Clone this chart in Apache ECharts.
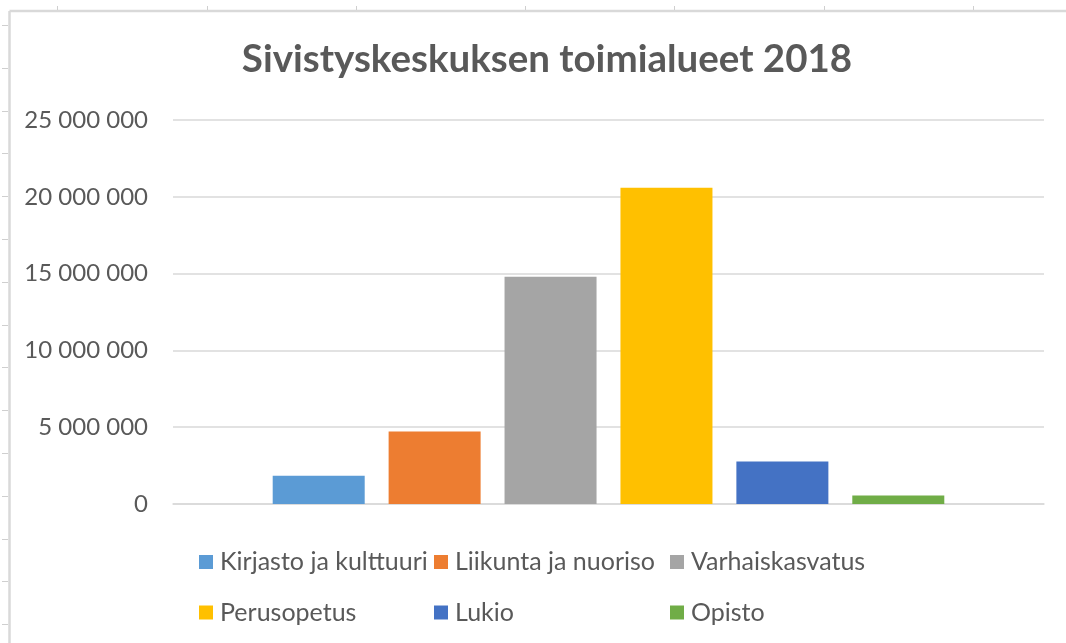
<!DOCTYPE html>
<html>
<head>
<meta charset="utf-8">
<script src="https://cdn.jsdelivr.net/npm/echarts@6/dist/echarts.min.js"></script>
<style>
html,body{margin:0;padding:0;background:#fff;}
#c{width:1066px;height:643px;}
</style>
</head>
<body>
<div id="c"></div>
<script>
const titleText = 'Sivistyskeskuksen toimialueet 2018';
const categories = [''];
const seriesNames = ['Kirjasto ja kulttuuri', 'Liikunta ja nuoriso', 'Varhaiskasvatus', 'Perusopetus', 'Lukio', 'Opisto'];
const seriesValues = [1840000, 4720000, 14800000, 20590000, 2770000, 560000];
const seriesColors = ['#5B9BD5', '#ED7D31', '#A5A5A5', '#FFC000', '#4472C4', '#70AD47'];
const yTicks = [0, 5000000, 10000000, 15000000, 20000000, 25000000];

const font = 'Lato';
const textColor = '#595959';
const frameColor = '#d9d9d9';

function fmt(v) {
  return String(v).replace(/\B(?=(\d{3})+(?!\d))/g, ' ');
}

// decorative spreadsheet frame
const graphics = [];
graphics.push({type:'line', shape:{x1:9.5, y1:11, x2:1066, y2:11}, style:{stroke:frameColor, lineWidth:2.5}, silent:true});
graphics.push({type:'line', shape:{x1:9.5, y1:11, x2:9.5, y2:643}, style:{stroke:frameColor, lineWidth:2.5}, silent:true});
[57, 207, 356, 525, 674, 824, 973].forEach(x => {
  graphics.push({type:'line', shape:{x1:x+0.5, y1:6, x2:x+0.5, y2:10}, style:{stroke:'#cfcfcf', lineWidth:1}, silent:true});
});
for (let k = 0; k < 15; k++) {
  const y = Math.round(25 + 42.8 * k) + 0.5;
  graphics.push({type:'line', shape:{x1:2, y1:y, x2:8, y2:y}, style:{stroke:'#cfcfcf', lineWidth:1}, silent:true});
}

const legendPos = [
  [199, 549], [434, 549], [670, 549],
  [199, 599.5], [434, 599.5], [670, 599.5]
];

const chart = echarts.init(document.getElementById('c'), null, {renderer:'canvas'});
chart.setOption({
  animation: false,
  backgroundColor: '#ffffff',
  title: {
    text: titleText,
    left: 542,
    textAlign: 'center',
    top: 35,
    textStyle: {fontFamily: font, fontWeight: 'bold', fontSize: 38.5, color: textColor}
  },
  graphic: graphics,
  legend: seriesNames.map((n, i) => ({
    data: [n],
    left: legendPos[i][0],
    top: legendPos[i][1],
    padding: 0,
    itemWidth: 14,
    itemHeight: 14,
    itemGap: 0,
    icon: 'rect',
    textStyle: {fontFamily: font, fontSize: 25, color: textColor, lineHeight: 26, padding: [0, 0, 0, 2]}
  })),
  grid: {left: 173, right: 22, top: 120, bottom: 139, containLabel: false},
  xAxis: {
    type: 'category',
    data: categories,
    axisLine: {show: true, lineStyle: {color: frameColor, width: 1.5}},
    axisTick: {show: false},
    axisLabel: {show: false},
    splitLine: {show: false}
  },
  yAxis: {
    type: 'value',
    min: yTicks[0],
    max: yTicks[yTicks.length - 1],
    interval: yTicks[1] - yTicks[0],
    axisLine: {show: false},
    axisTick: {show: false},
    axisLabel: {margin: 25, fontFamily: font, fontSize: 24, color: textColor, formatter: fmt},
    splitLine: {lineStyle: {color: frameColor, width: 1.5}}
  },
  series: seriesNames.map((n, i) => ({
    name: n,
    type: 'bar',
    data: [seriesValues[i]],
    barWidth: 92,
    barGap: '26%',
    itemStyle: {color: seriesColors[i]}
  }))
});
</script>
</body>
</html>
